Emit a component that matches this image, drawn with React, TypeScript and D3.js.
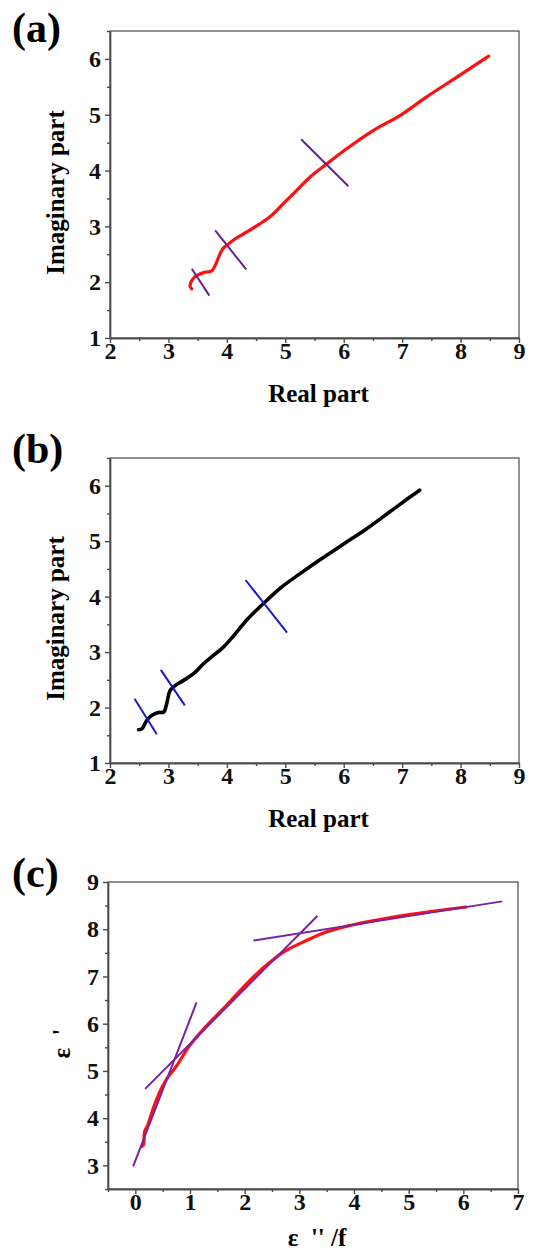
import * as d3 from "d3";
import React, { useRef, useEffect } from "react";

// panel (a) - red curve
const realA = [3.40, 3.37, 3.42, 3.49, 3.63, 3.74, 3.80, 3.86, 3.93, 4.00, 4.12, 4.34, 4.57, 4.77, 4.97, 5.20, 5.43, 5.71, 6.05, 6.51, 6.97, 7.42, 7.99, 8.48];
const imagA = [1.88, 1.93, 2.06, 2.12, 2.18, 2.20, 2.30, 2.45, 2.60, 2.66, 2.76, 2.90, 3.05, 3.20, 3.41, 3.65, 3.89, 4.12, 4.39, 4.72, 4.99, 5.32, 5.71, 6.05];
// tangent segments (a): [x1, y1, x2, y2]
const segA = [
  [3.40, 2.24, 3.70, 1.76],
  [3.80, 2.93, 4.33, 2.23],
  [5.27, 4.56, 6.08, 3.72],
];

// panel (b) - black curve
const realB = [2.49, 2.55, 2.63, 2.72, 2.83, 2.92, 2.97, 3.03, 3.12, 3.26, 3.43, 3.60, 3.77, 3.94, 4.12, 4.34, 4.51, 4.69, 4.91, 5.26, 5.60, 6.00, 6.40, 6.79, 7.14, 7.30];
const imagB = [1.60, 1.62, 1.77, 1.86, 1.91, 1.92, 2.07, 2.31, 2.40, 2.49, 2.61, 2.79, 2.94, 3.09, 3.30, 3.58, 3.76, 3.94, 4.15, 4.42, 4.67, 4.95, 5.23, 5.53, 5.80, 5.92];
const segB = [
  [2.42, 2.16, 2.80, 1.52],
  [2.87, 2.68, 3.28, 2.04],
  [4.32, 4.30, 5.03, 3.35],
];

// panel (c) - eps' vs eps''/f
const epsC = [0.12, 0.15, 0.17, 0.23, 0.32, 0.44, 0.57, 0.75, 0.99, 1.30, 1.66, 2.03, 2.39, 2.76, 3.13, 3.49, 3.86, 4.22, 4.83, 5.44, 6.05];
const epsPrimeC = [3.40, 3.44, 3.72, 3.86, 4.18, 4.54, 4.82, 5.10, 5.53, 5.95, 6.38, 6.84, 7.23, 7.55, 7.76, 7.94, 8.06, 8.15, 8.28, 8.38, 8.47];
const segC = [
  [-0.04, 2.98, 1.12, 6.45],
  [0.18, 4.62, 3.33, 8.28],
  [2.16, 7.76, 6.71, 8.59],
];

const ticksA = [2, 3, 4, 5, 6, 7, 8, 9];
const ticksYA = [1, 2, 3, 4, 5, 6];
const ticksC = [0, 1, 2, 3, 4, 5, 6, 7];
const ticksYC = [3, 4, 5, 6, 7, 8, 9];

const FONT = "'Liberation Serif', 'Times New Roman', serif";
const AXIS = "#4a4a4a";

function drawPanel(svg, p) {
  const x = d3.scaleLinear().domain(p.xDom).range([p.left, p.right]);
  const y = d3.scaleLinear().domain(p.yDom).range([p.bottom, p.top]);
  const g = svg.append("g");

  // frame
  g.append("rect")
    .attr("x", p.left).attr("y", p.top)
    .attr("width", p.right - p.left).attr("height", p.bottom - p.top)
    .attr("fill", "none").attr("stroke", AXIS).attr("stroke-width", 1.2);

  const minorX = d3.range(p.xDom[0], p.xDom[1] + 0.01, 0.5).filter(v => !p.xTicks.includes(v));
  const minorY = d3.range(p.yDom[0], p.yDom[1] + 0.01, 0.5).filter(v => !p.yTicks.includes(v));

  const styleAxis = sel => {
    sel.select(".domain").attr("stroke", AXIS).attr("stroke-width", 1.4);
    sel.selectAll(".tick line").attr("stroke", AXIS).attr("stroke-width", 1.4);
    sel.selectAll("text")
      .attr("fill", "#111")
      .style("font-family", FONT)
      .style("font-weight", "bold")
      .style("font-size", "24px");
  };

  g.append("g").attr("transform", `translate(0,${p.bottom})`)
    .call(d3.axisBottom(x).tickValues(minorX).tickSize(3).tickFormat(() => "").tickSizeOuter(0))
    .call(styleAxis);
  g.append("g").attr("transform", `translate(0,${p.bottom})`)
    .call(d3.axisBottom(x).tickValues(p.xTicks).tickSize(5).tickPadding(-1).tickSizeOuter(0).tickFormat(d3.format("d")))
    .call(styleAxis);
  g.append("g").attr("transform", `translate(${p.left},0)`)
    .call(d3.axisLeft(y).tickValues(minorY).tickSize(3).tickFormat(() => "").tickSizeOuter(0))
    .call(styleAxis);
  g.append("g").attr("transform", `translate(${p.left},0)`)
    .call(d3.axisLeft(y).tickValues(p.yTicks).tickSize(5).tickPadding(4).tickSizeOuter(0).tickFormat(d3.format("d")))
    .call(styleAxis);

  // curve
  const pts = p.xs.map((v, i) => [v, p.ys[i]]);
  const line = d3.line().x(d => x(d[0])).y(d => y(d[1])).curve(d3.curveCatmullRom.alpha(0.5));
  g.append("path")
    .attr("d", line(pts))
    .attr("fill", "none")
    .attr("stroke", p.color)
    .attr("stroke-width", p.width)
    .attr("stroke-linecap", "round")
    .attr("stroke-linejoin", "round");

  // tangent lines
  g.selectAll(".seg")
    .data(p.segs)
    .join("line")
      .attr("x1", d => x(d[0])).attr("y1", d => y(d[1]))
      .attr("x2", d => x(d[2])).attr("y2", d => y(d[3]))
      .attr("stroke", p.segColor)
      .attr("stroke-width", 2);

  // labels
  g.append("text")
    .attr("x", 12).attr("y", p.top + p.tagDy)
    .style("font-family", FONT).style("font-weight", "bold").style("font-size", "42px")
    .text(p.tag);

  g.append("text")
    .attr("x", (p.left + p.right) / 2 + 4).attr("y", p.bottom + p.xLabelDy)
    .attr("text-anchor", "middle")
    .style("font-family", FONT).style("font-weight", "bold").style("font-size", "25px")
    .style("white-space", "pre")
    .text(p.xLabel);

  g.append("text")
    .attr("transform", `translate(${p.yLabelX},${(p.top + p.bottom) / 2 + 8}) rotate(-90)`)
    .attr("text-anchor", "middle")
    .style("font-family", FONT).style("font-weight", "bold").style("font-size", "25px")
    .style("white-space", "pre")
    .text(p.yLabel);
}

function App() {
  const svgRef = useRef(null);

  useEffect(() => {
    const svg = d3.select(svgRef.current);
    svg.selectAll("*").remove();

    drawPanel(svg, {
      left: 110, right: 519, top: 31, bottom: 338,
      xDom: [2, 9], yDom: [1, 6.5], xTicks: ticksA, yTicks: ticksYA,
      xs: realA, ys: imagA, color: "#ff1010", width: 3.2,
      segs: segA, segColor: "#6a1f8f",
      tag: "(a)", tagDy: 11, xLabel: "Real part", xLabelDy: 64,
      yLabel: "Imaginary part", yLabelX: 64,
    });

    drawPanel(svg, {
      left: 110, right: 519, top: 458, bottom: 763,
      xDom: [2, 9], yDom: [1, 6.5], xTicks: ticksA, yTicks: ticksYA,
      xs: realB, ys: imagB, color: "#000", width: 3.6,
      segs: segB, segColor: "#1a1ac8",
      tag: "(b)", tagDy: 5, xLabel: "Real part", xLabelDy: 64,
      yLabel: "Imaginary part", yLabelX: 64,
    });

    drawPanel(svg, {
      left: 108, right: 518, top: 882, bottom: 1189,
      xDom: [-0.5, 7], yDom: [2.5, 9], xTicks: ticksC, yTicks: ticksYC,
      xs: epsC, ys: epsPrimeC, color: "#ff1010", width: 3.2,
      segs: segC, segColor: "#7a22a0",
      tag: "(c)", tagDy: 5, xLabel: "ε  '' /f", xLabelDy: 57,
      yLabel: "ε  '", yLabelX: 70,
    });
  }, []);

  return (
    <div className="App">
      <svg ref={svgRef} width={550} height={1251}
        style={{ position: "absolute", left: 0, top: 0, background: "#fff" }} />
    </div>
  );
}

export default App;
